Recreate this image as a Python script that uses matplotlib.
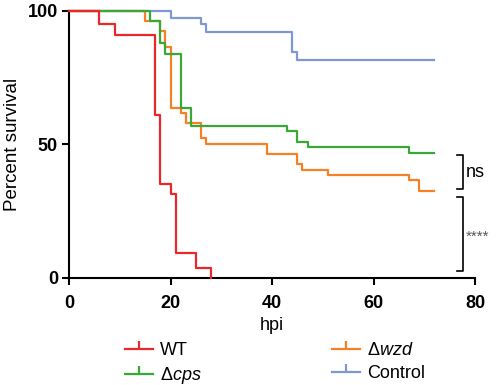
import matplotlib
matplotlib.use("Agg")
import matplotlib.pyplot as plt
from matplotlib.lines import Line2D

plt.rcParams['font.family'] = ['Liberation Sans', 'DejaVu Sans']
plt.rcParams['mathtext.fontset'] = 'custom'
plt.rcParams['mathtext.rm'] = 'Liberation Sans'
plt.rcParams['mathtext.it'] = 'Liberation Sans:italic'

# Kaplan-Meier step data (hours post infection, percent survival)
wt_t = [0, 6, 9, 17, 18, 20, 21, 25, 28]
wt_s = [100, 95, 91, 61, 35.3, 31.6, 9.2, 3.9, 0]

cps_t = [0, 16, 18, 19, 22, 24, 43, 45, 47, 67, 72]
cps_s = [100, 96.3, 88, 84, 63.5, 57, 55.2, 51, 49.1, 46.9, 46.9]

wzd_t = [0, 15, 18, 19, 20, 22, 23, 26, 27, 39, 45, 46, 51, 67, 69, 72]
wzd_s = [100, 96.1, 92.5, 86.6, 63.5, 61.6, 57.9, 52.3, 50.2, 46.3, 42.6, 40.4, 38.6, 36.7, 32.7, 32.7]

ctl_t = [0, 20, 26, 27, 44, 45, 72]
ctl_s = [100, 97.5, 95, 92.1, 84.5, 81.6, 81.6]

labels = ['WT', 'Δ$\\mathit{cps}$', 'Δ$\\mathit{wzd}$', 'Control']
colors = ['#e8282b', '#3aa837', '#f58025', '#7f98d2']

xticks = [0, 20, 40, 60, 80]
yticks = [0, 50, 100]

fig = plt.figure(figsize=(5, 3.85), dpi=100)
ax = fig.add_axes([0.138, 0.278, 0.812, 0.6935])

series = [(wt_t, wt_s, 4), (cps_t, cps_s, 3), (wzd_t, wzd_s, 2), (ctl_t, ctl_s, 1)]
for (t, s, z), c in zip(series, colors):
    ax.step(t, s, where='post', color=c, lw=1.6, zorder=z, clip_on=False)

ax.set_xlim(0, 80)
ax.set_ylim(0, 100)
ax.set_xticks(xticks)
ax.set_yticks(yticks)
for sp in ['top', 'right']:
    ax.spines[sp].set_visible(False)
for sp in ['left', 'bottom']:
    ax.spines[sp].set_linewidth(1.5)
ax.tick_params(width=1.5, length=5, direction='out', labelsize=13, pad=3)
ax.tick_params(axis='x', pad=7)
for lab in ax.get_xticklabels() + ax.get_yticklabels():
    lab.set_fontweight('bold')
ax.set_xlabel('hpi', fontsize=13, labelpad=4)
ax.set_ylabel('Percent survival', fontsize=13.5)
ax.yaxis.set_label_coords(-0.118, 0.5)

# significance brackets
def bracket(y0, y1):
    xs = [76.4, 77.7, 77.7, 76.4]
    ys = [y1, y1, y0, y0]
    ax.plot(xs, ys, color='black', lw=1.2, clip_on=False)

bracket(33.2, 46.1)
ax.text(78.1, 39.6, 'ns', fontsize=13, va='center', ha='left', clip_on=False)
bracket(2.6, 30.2)
ax.text(78.2, 15.5, '****', fontsize=11, color='#555555', va='center', ha='left', clip_on=False)

handles = [Line2D([], [], color=c, lw=1.6, marker=2, markersize=6, markeredgewidth=1.6)
           for c in colors]
fig.legend(handles, labels, loc='upper left', bbox_to_anchor=(0.25, 0.112), ncol=2,
           frameon=False, fontsize=13, handlelength=1.55, handletextpad=0.4,
           columnspacing=7.2, labelspacing=0.35, borderpad=0, borderaxespad=0, numpoints=1)

fig.savefig('out.png', dpi=100)
